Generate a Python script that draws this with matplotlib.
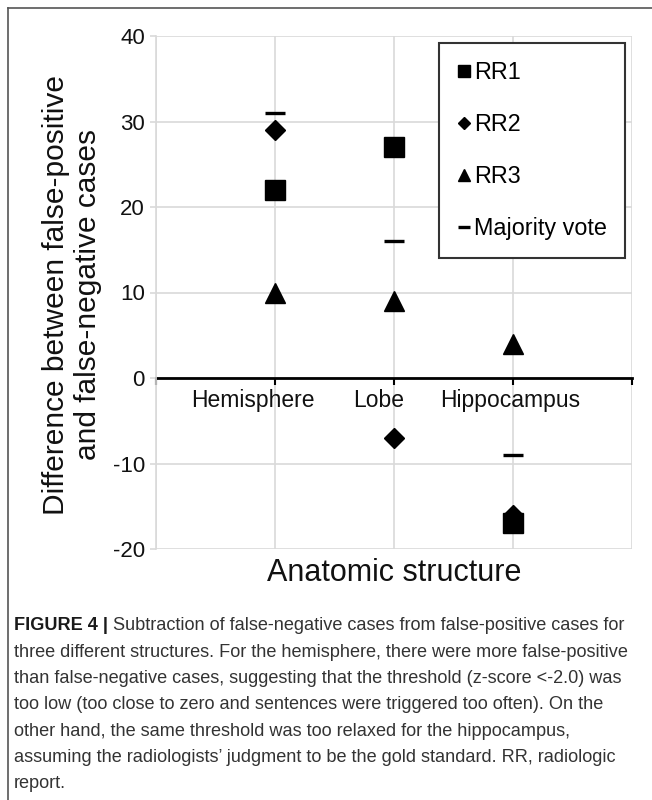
import numpy as np
import matplotlib
matplotlib.use("Agg")
import matplotlib.pyplot as plt
from matplotlib.lines import Line2D
from matplotlib.transforms import ScaledTranslation

plt.rcParams['font.family'] = ['Liberation Sans', 'DejaVu Sans']
plt.rcParams['axes.unicode_minus'] = False

# data
structures = ["Hemisphere", "Lobe", "Hippocampus"]
rr1 = [22, 27, -17]
rr2 = [29, -7, -16]
rr3 = [10, 9, 4]
majority = [31, 16, -9]
series_names = ["RR1", "RR2", "RR3", "Majority vote"]

caption_bold = "FIGURE 4 |"
caption_lines = [
    " Subtraction of false-negative cases from false-positive cases for",
    "three different structures. For the hemisphere, there were more false-positive",
    "than false-negative cases, suggesting that the threshold (z-score <-2.0) was",
    "too low (too close to zero and sentences were triggered too often). On the",
    "other hand, the same threshold was too relaxed for the hippocampus,",
    "assuming the radiologists\u2019 judgment to be the gold standard. RR, radiologic",
    "report.",
]

W, H = 652, 800
fig = plt.figure(figsize=(W / 100, H / 100), dpi=100)
ax = fig.add_axes([156 / W, 1 - 549 / H, (632 - 156) / W, (549 - 36) / H])

x = np.arange(1, len(structures) + 1)
grid_c = "#d9d9d9"

ax.plot(x, rr1, ls="none", marker="s", ms=14.4, color="black", label=series_names[0], zorder=3)
ax.plot(x, rr2, ls="none", marker="D", ms=10.5, color="black", label=series_names[1], zorder=4)
ax.plot(x, rr3, ls="none", marker="^", ms=15, color="black", label=series_names[2], zorder=3)
ax.plot(x, majority, ls="none", marker="_", ms=14.4, mew=2.4, color="black", label=series_names[3], zorder=3)

ax.set_xlim(0, len(structures) + 1)
ax.set_ylim(-20, 40)
ax.set_yticks(np.arange(-20, 41, 10))
ax.set_xticks(np.arange(0, len(structures) + 2))
ax.set_xticklabels([""] + structures + [""])
ax.grid(True, color=grid_c, lw=1.2)
ax.set_axisbelow(True)

for s in ["top", "right"]:
    ax.spines[s].set_visible(False)
ax.spines["left"].set_color(grid_c)
ax.spines["left"].set_linewidth(1.2)
ax.spines["bottom"].set_position(("data", 0))
ax.spines["bottom"].set_color("black")
ax.spines["bottom"].set_linewidth(2)
ax.spines["bottom"].set_zorder(2)

ax.tick_params(axis="y", length=4, width=1.2, color=grid_c, labelsize=16, pad=4, labelcolor="#111111")
ax.tick_params(axis="x", length=5, width=1.5, color="black", labelsize=16.5, pad=3, labelcolor="#111111")

# Excel put the category labels slightly left of their gridlines
shifts = [0, -22, -15, -3, 0]
for lab, dx in zip(ax.get_xticklabels(), shifts):
    lab.set_transform(lab.get_transform() + ScaledTranslation(dx / 100, 0, fig.dpi_scale_trans))

fig.text(394 / W, 1 - 573 / H, "Anatomic structure", fontsize=22, ha="center", va="center", color="#111111")
fig.text(72 / W, 1 - 295 / H, "Difference between false-positive\nand false-negative cases",
         fontsize=21.5, rotation=90, ha="center", va="center", multialignment="center",
         linespacing=1.2, color="#111111")

leg = ax.legend(loc="upper right", bbox_to_anchor=(625 / W, 1 - 43 / H), bbox_transform=fig.transFigure,
                borderaxespad=0, fontsize=16.8, markerscale=0.6, handlelength=0.6, handletextpad=0.12,
                labelspacing=1.24, borderpad=0.78, fancybox=False, framealpha=1, edgecolor="#333333")
leg.get_frame().set_linewidth(1.5)

# figure frame (top and left)
fig.add_artist(Line2D([8 / W, 1], [1 - 8 / H, 1 - 8 / H], color="#555555", lw=1.2))
fig.add_artist(Line2D([8 / W, 8 / W], [0, 1 - 8 / H], color="#555555", lw=1.2))

# caption
fs = 13.1
y0 = 626
step = 26.3
tb = fig.text(14 / W, 1 - y0 / H, caption_bold, fontsize=fs, fontweight="bold", va="center", color="#1a1a1a")
fig.canvas.draw()
bb = tb.get_window_extent()
fig.text(bb.x1 / W, 1 - y0 / H, caption_lines[0], fontsize=fs, va="center", color="#333333")
for i, line in enumerate(caption_lines[1:], start=1):
    fig.text(14 / W, 1 - (y0 + i * step) / H, line, fontsize=fs, va="center", color="#333333")

fig.savefig("out.png", dpi=100)
